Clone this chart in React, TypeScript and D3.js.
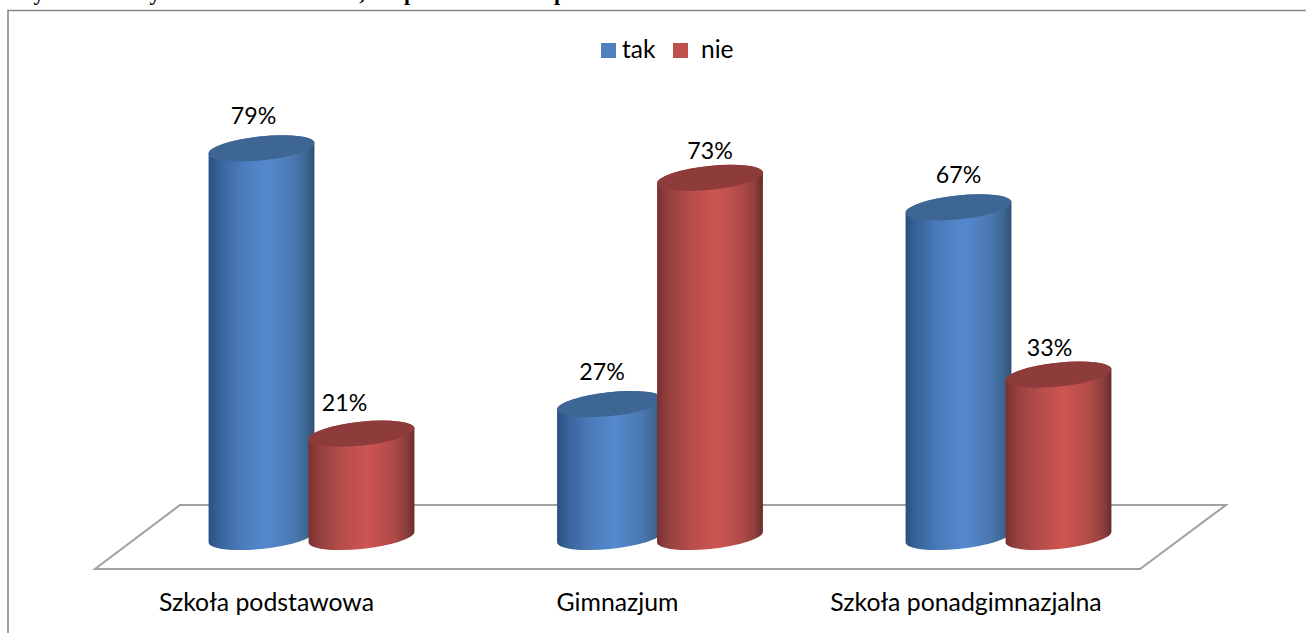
import React from "react";
import * as d3 from "d3";

const categories = ["Szkoła podstawowa", "Gimnazjum", "Szkoła ponadgimnazjalna"];
const seriesNames = ["tak", "nie"];
const takValues = [79, 27, 67];
const nieValues = [21, 73, 33];
const titleFragments = ["y", "y", ",", "p", "p"];

const W = 1306;
const H = 633;
const FONT = "Lato, 'Open Sans', sans-serif";

const x = d3.scaleBand<string>().domain(categories).range([137.25, 1182.75]).paddingInner(0).paddingOuter(0);
const y = d3.scaleLinear().domain([0, 100]).range([537, 45]);

const a = 53.2;
const b = 11.9;
const theta = (-6 * Math.PI) / 180;
const c = Math.cos(theta);
const s = Math.sin(theta);
const xExt = Math.sqrt(a * a * c * c + b * b * s * s);
const yAtExt = ((a * a - b * b) * s * c) / xExt;

function bodyPath(cx: number, yTop: number, yBot: number) {
  const hw = xExt;
  const deg = (theta * 180) / Math.PI;
  return [
    `M${cx - hw},${yTop - yAtExt}`,
    `L${cx - hw},${yBot - yAtExt}`,
    `A${a},${b} ${deg} 0 0 ${cx + hw},${yBot + yAtExt}`,
    `L${cx + hw},${yTop + yAtExt}`,
    `A${a},${b} ${deg} 0 0 ${cx - hw},${yTop - yAtExt}`,
    "Z",
  ].join(" ");
}

const blueStops: [number, string][] = [
  [0, "#2b5080"],
  [0.1, "#38639a"],
  [0.3, "#4a7ab8"],
  [0.55, "#5589cf"],
  [0.8, "#4a78b0"],
  [0.92, "#3f6794"],
  [1, "#2e5076"],
];
const redStops: [number, string][] = [
  [0, "#7a3130"],
  [0.1, "#93403f"],
  [0.3, "#b34c4a"],
  [0.55, "#cd5552"],
  [0.8, "#b04a48"],
  [0.92, "#8f3f3d"],
  [1, "#692c2b"],
];

const seriesStyle = [
  { values: takValues, gradient: "gBlue", cap: "#3d6694", swatch: "#4f81bd", offset: -50 },
  { values: nieValues, gradient: "gRed", cap: "#8e3c3b", swatch: "#c0504d", offset: 50 },
];

const labelDx = [
  [-8, -8, 0],
  [-17, 0, -9],
];
const labelDy = [
  [0, 0, 0],
  [1, 5, 5],
];

const titleX = [39, 155, 362, 410, 560];
const categoryDx = [-45, -42.5, -42.5];

function Cylinder({ cx, v, gradient, cap }: { cx: number; v: number; gradient: string; cap: string }) {
  const top = y(v);
  const bot = y(0);
  const deg = (theta * 180) / Math.PI;
  return (
    <g>
      <path d={bodyPath(cx, top, bot)} fill={`url(#${gradient})`} />
      <ellipse cx={0} cy={0} rx={a} ry={b} fill={cap} transform={`translate(${cx},${top}) rotate(${deg})`} />
    </g>
  );
}

export default function App() {
  const floor = d3.line()([
    [95, 569],
    [1140, 569],
    [1226, 505],
    [180, 505],
  ]) + "Z";
  return (
    <svg
      width={W}
      height={H}
      viewBox={`0 0 ${W} ${H}`}
      style={{ position: "absolute", left: 0, top: 0, display: "block", background: "#fff" }}
    >
      <defs>
        {[["gBlue", blueStops], ["gRed", redStops]].map(([id, stops]: any) => (
          <linearGradient key={id} id={id} x1="0" x2="1" y1="0" y2="0">
            {stops.map(([o, col]: [number, string]) => (
              <stop key={o} offset={o} stopColor={col} />
            ))}
          </linearGradient>
        ))}
      </defs>

      {titleFragments.map((t, i) => (
        <text
          key={i}
          x={titleX[i]}
          y={0}
          textAnchor="middle"
          fontFamily="'Liberation Serif', serif"
          fontWeight="bold"
          fontSize={22}
          fill="#000"
        >
          {t}
        </text>
      ))}

      <path d={`M${W},10.5 H8 V${H}`} fill="none" stroke="#868686" strokeWidth={1.6} />

      <path d={floor} fill="#fff" stroke="#a0a0a0" strokeWidth={2} />

      {categories.map((cat, ci) => {
        const center = x(cat)! + x.bandwidth() / 2;
        return (
          <g key={cat}>
            {seriesStyle.map((ser) => (
              <Cylinder
                key={ser.gradient}
                cx={center + ser.offset}
                v={ser.values[ci]}
                gradient={ser.gradient}
                cap={ser.cap}
              />
            ))}
            <text
              x={center + categoryDx[ci]}
              y={611}
              textAnchor="middle"
              fontFamily={FONT}
              fontSize={24.8}
              fill="#000"
            >
              {cat}
            </text>
          </g>
        );
      })}

      {categories.map((cat, ci) => {
        const center = x(cat)! + x.bandwidth() / 2;
        return seriesStyle.map((ser, si) => (
          <text
            key={cat + si}
            x={center + ser.offset + labelDx[si][ci]}
            y={y(ser.values[ci]) - 24 + labelDy[si][ci]}
            textAnchor="middle"
            fontFamily={FONT}
            fontSize={23.2}
            fill="#000"
          >
            {ser.values[ci]}%
          </text>
        ));
      })}

      <g fontFamily={FONT} fontSize={24.5} fill="#000">
        <rect x={601} y={43} width={15} height={15} fill={seriesStyle[0].swatch} />
        <text x={622} y={58}>{seriesNames[0]}</text>
        <rect x={673} y={43} width={15} height={15} fill={seriesStyle[1].swatch} />
        <text x={701} y={58}>{seriesNames[1]}</text>
      </g>
    </svg>
  );
}
